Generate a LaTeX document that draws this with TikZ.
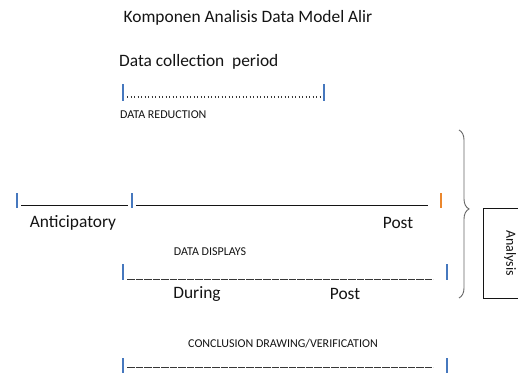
\documentclass[tikz,border=0pt]{standalone}
\usepackage{fontspec}
\setmainfont{Carlito}
\usetikzlibrary{decorations.pathreplacing}
\definecolor{barblue}{RGB}{70,120,190}
\definecolor{barorange}{RGB}{235,135,45}
\definecolor{ink}{RGB}{20,20,20}
\begin{document}
\begin{tikzpicture}[x=1pt,y=1pt,
  big/.style={inner sep=0pt, text=ink, font=\fontsize{17.4}{20}\selectfont},
  small/.style={inner sep=0pt, text=ink, font=\fontsize{12}{14}\selectfont},
  tick/.style={draw=barblue, line width=1.15pt},
  otick/.style={draw=barorange, line width=1.15pt},
  rule/.style={draw=ink, line width=1pt},
  dashrule/.style={draw=ink!85, line width=1pt, dash pattern=on 7.6pt off 0.9pt},
  dotrule/.style={draw=ink!85, line width=1.3pt, dash pattern=on 1.2pt off 2.3pt}]
\clip (0,0) rectangle (518,-373);
\fill[white] (0,0) rectangle (518,-373);

% texts
\node[big] (title) at (248,-18) {Komponen Analisis Data Model Alir};
\node[big, anchor=west] (period) at (119,-62) {Data collection\ \ period};
\node[small, anchor=west] (red) at (120,-115) {DATA REDUCTION};
\node[big] (antic) at (73,-223) {Anticipatory};
\node[big] (post1) at (398,-223) {Post};
\node[small] (disp) at (210,-252) {DATA DISPLAYS};
\node[big] (during) at (197,-294) {During};
\node[big] (post2) at (345,-294) {Post};
\node[small] (concl) at (283,-344) {CONCLUSION DRAWING/VERIFICATION};

% dotted period line
\coordinate (r0a) at (123,-84);  \coordinate (r0b) at (123,-101);
\coordinate (r1a) at (324,-84);  \coordinate (r1b) at (324,-101);
\path[tick] (r0a) -- (r0b);
\path[tick] (r1a) -- (r1b);
\coordinate (d0) at (127,-97); \coordinate (d1) at (321,-97);
\path[dotrule] (d0) -- (d1);

% line 1
\coordinate (a0) at (17,-193);  \coordinate (a0b) at (17,-208);
\coordinate (a1) at (132,-193); \coordinate (a1b) at (132,-208);
\coordinate (a2) at (441,-193); \coordinate (a2b) at (441,-208);
\path[tick] (a0) -- (a0b);
\path[tick] (a1) -- (a1b);
\path[otick] (a2) -- (a2b);
\coordinate (l1a) at (21,-205);  \coordinate (l1b) at (128,-205);
\coordinate (l1c) at (136,-205); \coordinate (l1d) at (428,-205);
\path[rule] (l1a) -- (l1b);
\path[rule] (l1c) -- (l1d);

% line 2
\coordinate (b0) at (123,-264); \coordinate (b0b) at (123,-280);
\coordinate (b1) at (447,-264); \coordinate (b1b) at (447,-280);
\path[tick] (b0) -- (b0b);
\path[tick] (b1) -- (b1b);
\coordinate (l2a) at (127,-279); \coordinate (l2b) at (433,-279);
\path[dashrule] (l2a) -- (l2b);

% line 3
\coordinate (c0) at (123,-358); \coordinate (c0b) at (123,-373);
\coordinate (c1) at (447,-358); \coordinate (c1b) at (447,-373);
\path[tick] (c0) -- (c0b);
\path[tick] (c1) -- (c1b);
\coordinate (l3a) at (127,-367); \coordinate (l3b) at (433,-367);
\path[dashrule] (l3a) -- (l3b);

% brace and analysis box
\coordinate (br0) at (459,-130);
\coordinate (br1) at (459,-298);
\draw[ink!65, line width=0.9pt, decorate,
  decoration={brace, amplitude=10pt, aspect=0.47}] (br0) -- (br1);
\node[draw=ink, line width=0.9pt, rotate=-90, minimum width=90, minimum height=54,
  inner sep=0pt, text=ink, font=\fontsize{14}{16}\selectfont] (analysis) at (510,-253) {Analysis};
\end{tikzpicture}
\end{document}
